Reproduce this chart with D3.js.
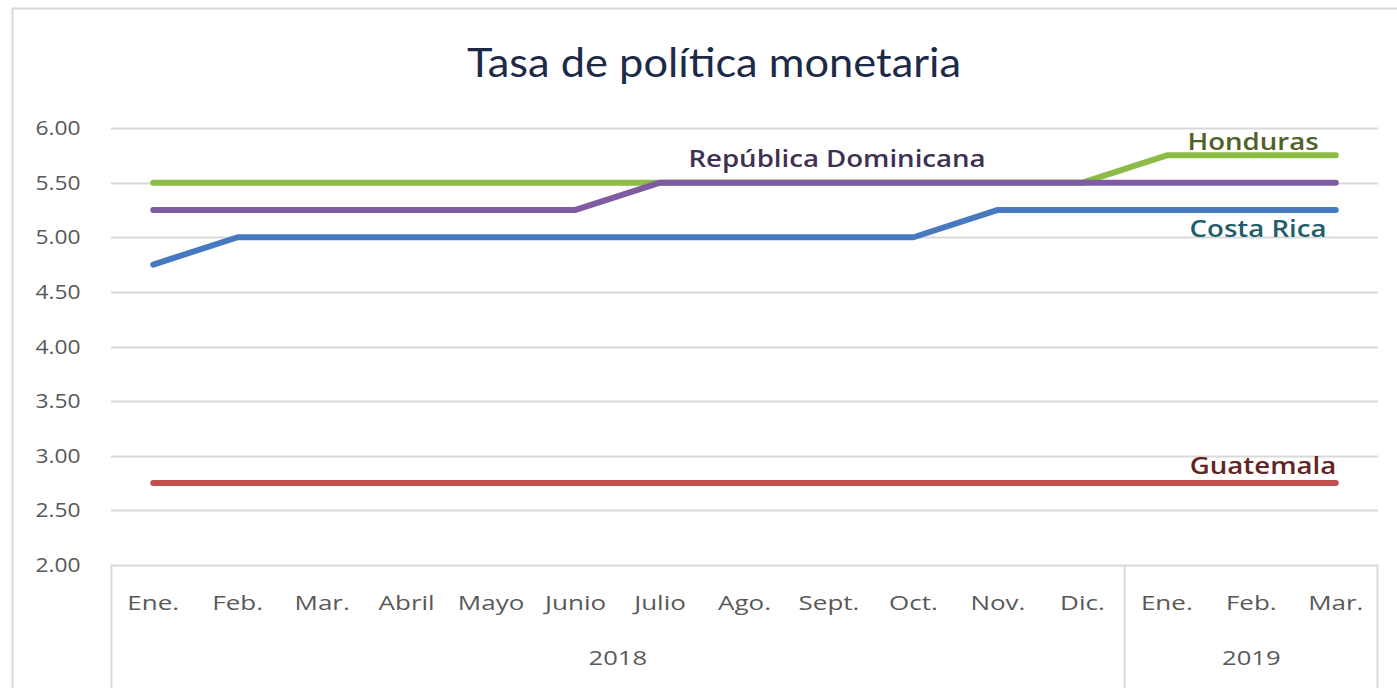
<!DOCTYPE html>
<html>
<head>
<meta charset="utf-8">
<script src="https://cdn.jsdelivr.net/npm/d3@7"></script>
<style>
  body { margin: 0; background: #fff; }
  svg { display: block; }
</style>
</head>
<body>
<div id="chart"></div>
<script>
// months shown on the axis, and the year each one belongs to
const months = ["Ene.", "Feb.", "Mar.", "Abril", "Mayo", "Junio", "Julio", "Ago.", "Sept.", "Oct.", "Nov.", "Dic.", "Ene.", "Feb.", "Mar."];
const years = ["2018", "2018", "2018", "2018", "2018", "2018", "2018", "2018", "2018", "2018", "2018", "2018", "2019", "2019", "2019"];
const yTicks = [2.0, 2.5, 3.0, 3.5, 4.0, 4.5, 5.0, 5.5, 6.0];

// policy rates per country
const honduras = [5.5, 5.5, 5.5, 5.5, 5.5, 5.5, 5.5, 5.5, 5.5, 5.5, 5.5, 5.5, 5.75, 5.75, 5.75];
const costaRica = [4.75, 5.0, 5.0, 5.0, 5.0, 5.0, 5.0, 5.0, 5.0, 5.0, 5.25, 5.25, 5.25, 5.25, 5.25];
const repDominicana = [5.25, 5.25, 5.25, 5.25, 5.25, 5.25, 5.5, 5.5, 5.5, 5.5, 5.5, 5.5, 5.5, 5.5, 5.5];
const guatemala = [2.75, 2.75, 2.75, 2.75, 2.75, 2.75, 2.75, 2.75, 2.75, 2.75, 2.75, 2.75, 2.75, 2.75, 2.75];

const series = [
  { name: "Honduras", values: honduras, color: "#8dbb48", text: "#4f6228", lx: 1253, ly: 150 },
  { name: "Costa Rica", values: costaRica, color: "#4679bf", text: "#215e6b", lx: 1258, ly: 237 },
  { name: "República Dominicana", values: repDominicana, color: "#7f5ca2", text: "#3f3151", lx: 837, ly: 167 },
  { name: "Guatemala", values: guatemala, color: "#c0504d", text: "#632523", lx: 1263, ly: 474 }
];

const W = 1397, H = 688;
const margin = { top: 128, right: 19, bottom: 123, left: 111 };
const width = W - margin.left - margin.right;
const height = H - margin.top - margin.bottom;
const font = "'Open Sans', sans-serif";

// the original text looks horizontally stretched, so widen glyphs around their anchor
function stretch(sel, sx) {
  sel.each(function () {
    const t = d3.select(this);
    const tx = +t.attr("x") || 0, ty = +t.attr("y") || 0;
    t.attr("x", 0).attr("y", 0)
      .attr("transform", `translate(${tx},${ty}) scale(${sx},1)`);
  });
}

const svg = d3.select("#chart").append("svg")
  .attr("width", W)
  .attr("height", H);

// outer chart frame (cut off on the right and bottom in the original)
svg.append("path")
  .attr("d", `M12.5,${H} V8.5 H${W}`)
  .attr("fill", "none")
  .attr("stroke", "#d9d9d9")
  .attr("stroke-width", 2);

svg.append("text")
  .attr("x", 714)
  .attr("y", 77)
  .attr("text-anchor", "middle")
  .attr("font-family", "Lato, sans-serif")
  .attr("font-size", 40)
  .attr("fill", "#1c2a48")
  .attr("textLength", 494)
  .attr("lengthAdjust", "spacingAndGlyphs")
  .text("Tasa de política monetaria");

const g = svg.append("g")
  .attr("transform", `translate(${margin.left},${margin.top})`);

const idx = d3.range(months.length);
const x = d3.scaleBand()
  .domain(idx)
  .range([0, width]);

const y = d3.scaleLinear()
  .domain([2, 6])
  .range([height, 0]);

// gridlines
g.append("g")
  .selectAll("line")
  .data(yTicks.slice(1))
  .join("line")
  .attr("x1", 0)
  .attr("x2", width)
  .attr("y1", d => Math.round(y(d)) + 0.5)
  .attr("y2", d => Math.round(y(d)) + 0.5)
  .attr("stroke", "#d9d9d9")
  .attr("stroke-width", 2);

// y axis labels
g.append("g")
  .selectAll("text")
  .data(yTicks)
  .join("text")
  .attr("x", -53)
  .attr("y", d => y(d) + 7)
  .attr("text-anchor", "middle")
  .attr("font-family", font)
  .attr("font-size", 20)
  .attr("fill", "#595959")
  .text(d3.format(".2f"))
  .call(stretch, 1.14);

// category axis box
const axisG = g.append("g").attr("transform", `translate(0,${height})`);
const boxBottom = H - margin.top - height;
axisG.append("path")
  .attr("d", `M0.5,${boxBottom} V0.5 H${width - 0.5} V${boxBottom}`)
  .attr("fill", "none")
  .attr("stroke", "#d9d9d9")
  .attr("stroke-width", 2);

// divider between years
const yearGroups = d3.groups(idx, i => years[i]);
yearGroups.slice(1).forEach(([yr, arr]) => {
  const xx = x(arr[0]);
  axisG.append("line")
    .attr("x1", xx).attr("x2", xx)
    .attr("y1", 0).attr("y2", boxBottom)
    .attr("stroke", "#d9d9d9")
    .attr("stroke-width", 2);
});

axisG.selectAll(".month")
  .data(idx)
  .join("text")
  .attr("class", "month")
  .attr("x", i => x(i) + x.bandwidth() / 2)
  .attr("y", 45)
  .attr("text-anchor", "middle")
  .attr("font-family", font)
  .attr("font-size", 20)
  .attr("fill", "#595959")
  .text(i => months[i])
  .call(stretch, 1.3);

axisG.selectAll(".year")
  .data(yearGroups)
  .join("text")
  .attr("class", "year")
  .attr("x", ([yr, arr]) => (x(arr[0]) + x(arr[arr.length - 1]) + x.bandwidth()) / 2)
  .attr("y", 100)
  .attr("text-anchor", "middle")
  .attr("font-family", font)
  .attr("font-size", 20)
  .attr("fill", "#595959")
  .text(([yr]) => yr)
  .call(stretch, 1.28);

// lines
const line = d3.line()
  .x((d, i) => x(i) + x.bandwidth() / 2)
  .y(d => y(d));

// draw order: purple sits above green where they meet
const drawOrder = [series[0], series[1], series[3], series[2]];
g.selectAll(".series")
  .data(drawOrder)
  .join("path")
  .attr("class", "series")
  .attr("d", d => line(d.values))
  .attr("fill", "none")
  .attr("stroke", d => d.color)
  .attr("stroke-width", 6)
  .attr("stroke-linecap", "round")
  .attr("stroke-linejoin", "round");

// series labels
svg.selectAll(".label")
  .data(series)
  .join("text")
  .attr("class", "label")
  .attr("x", d => d.lx)
  .attr("y", d => d.ly)
  .attr("text-anchor", "middle")
  .attr("font-family", font)
  .attr("font-size", 23)
  .attr("font-weight", 600)
  .attr("fill", d => d.text)
  .text(d => d.name)
  .call(stretch, 1.2);
</script>
</body>
</html>
